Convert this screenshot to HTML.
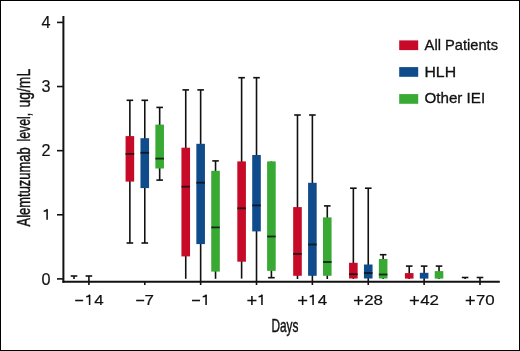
<!DOCTYPE html>
<html><head><meta charset="utf-8"><style>
html,body{margin:0;padding:0;background:#fff;overflow:hidden;width:520px;height:351px;}
svg{display:block;will-change:transform;}
.yt{font-family:"Liberation Sans",sans-serif;font-size:16.2px;fill:#111;stroke:#111;stroke-width:0.2px;}
.t{font-family:"Liberation Sans",sans-serif;font-size:15.4px;stroke:#111;stroke-width:0.2px;fill:#111;}
.l{font-family:"Liberation Sans",sans-serif;font-size:14.4px;fill:#111;stroke:#111;stroke-width:0.3px;}
.a{font-family:"Liberation Sans",sans-serif;font-size:18.8px;fill:#111;stroke:#111;stroke-width:0.45px;}
.y{font-family:"Liberation Sans",sans-serif;font-size:19.2px;fill:#111;stroke:#111;stroke-width:0.35px;}
</style></head><body>
<svg width="520" height="351" viewBox="0 0 520 351">
<rect x="0" y="0" width="520" height="351" fill="#fff"/>
<rect x="0.5" y="0.5" width="519" height="350" fill="none" stroke="#000" stroke-width="1"/>
<line x1="63.4" y1="16" x2="63.4" y2="282.8" stroke="#111" stroke-width="2"/>
<line x1="62.4" y1="281.8" x2="499.8" y2="281.8" stroke="#111" stroke-width="2"/>
<line x1="57" y1="278.90" x2="63" y2="278.90" stroke="#111" stroke-width="1.6"/>
<text transform="translate(50.5,284.70) scale(1.0,1)" text-anchor="end" class="yt">0</text>
<line x1="57" y1="214.78" x2="63" y2="214.78" stroke="#111" stroke-width="1.6"/>
<path d="M47.10 219.77999999999997 V209.48 M47.60 209.18 Q46.10 211.08 43.70 211.28" fill="none" stroke="#111" stroke-width="1.55"/>
<line x1="57" y1="150.66" x2="63" y2="150.66" stroke="#111" stroke-width="1.6"/>
<text transform="translate(50.5,156.46) scale(1.0,1)" text-anchor="end" class="yt">2</text>
<line x1="57" y1="86.54" x2="63" y2="86.54" stroke="#111" stroke-width="1.6"/>
<text transform="translate(50.5,92.34) scale(1.0,1)" text-anchor="end" class="yt">3</text>
<line x1="57" y1="22.42" x2="63" y2="22.42" stroke="#111" stroke-width="1.6"/>
<text transform="translate(50.5,28.22) scale(1.0,1)" text-anchor="end" class="yt">4</text>
<line x1="88.90" y1="281" x2="88.90" y2="285" stroke="#111" stroke-width="1.6"/>
<line x1="75.15" y1="300.5" x2="83.15" y2="300.5" stroke="#111" stroke-width="1.55"/>
<path d="M89.60 305.1 V295.00 M90.10 294.70 Q88.60 296.60 86.20 296.80" fill="none" stroke="#111" stroke-width="1.55"/>
<text transform="translate(98.90,305.20) scale(1.1,1)" text-anchor="middle" class="t">4</text>
<line x1="144.77" y1="281" x2="144.77" y2="285" stroke="#111" stroke-width="1.6"/>
<line x1="136.17" y1="300.5" x2="144.17" y2="300.5" stroke="#111" stroke-width="1.55"/>
<text transform="translate(149.17,305.20) scale(1.1,1)" text-anchor="middle" class="t">7</text>
<line x1="200.64" y1="281" x2="200.64" y2="285" stroke="#111" stroke-width="1.6"/>
<line x1="192.04" y1="300.5" x2="200.04" y2="300.5" stroke="#111" stroke-width="1.55"/>
<path d="M206.09 305.1 V295.00 M206.59 294.70 Q205.09 296.60 202.69 296.80" fill="none" stroke="#111" stroke-width="1.55"/>
<line x1="256.51" y1="281" x2="256.51" y2="285" stroke="#111" stroke-width="1.6"/>
<line x1="247.36" y1="300.5" x2="256.46" y2="300.5" stroke="#111" stroke-width="1.55"/>
<line x1="251.91" y1="295.95" x2="251.91" y2="305.05" stroke="#111" stroke-width="1.55"/>
<path d="M261.96 305.1 V295.00 M262.46 294.70 Q260.96 296.60 258.56 296.80" fill="none" stroke="#111" stroke-width="1.55"/>
<line x1="312.38" y1="281" x2="312.38" y2="285" stroke="#111" stroke-width="1.6"/>
<line x1="298.08" y1="300.5" x2="307.18" y2="300.5" stroke="#111" stroke-width="1.55"/>
<line x1="302.63" y1="295.95" x2="302.63" y2="305.05" stroke="#111" stroke-width="1.55"/>
<path d="M313.08 305.1 V295.00 M313.58 294.70 Q312.08 296.60 309.68 296.80" fill="none" stroke="#111" stroke-width="1.55"/>
<text transform="translate(322.38,305.20) scale(1.1,1)" text-anchor="middle" class="t">4</text>
<line x1="368.25" y1="281" x2="368.25" y2="285" stroke="#111" stroke-width="1.6"/>
<line x1="353.95" y1="300.5" x2="363.05" y2="300.5" stroke="#111" stroke-width="1.55"/>
<line x1="358.50" y1="295.95" x2="358.50" y2="305.05" stroke="#111" stroke-width="1.55"/>
<text transform="translate(369.05,305.20) scale(1.1,1)" text-anchor="middle" class="t">2</text>
<text transform="translate(378.25,305.20) scale(1.1,1)" text-anchor="middle" class="t">8</text>
<line x1="424.12" y1="281" x2="424.12" y2="285" stroke="#111" stroke-width="1.6"/>
<line x1="409.82" y1="300.5" x2="418.92" y2="300.5" stroke="#111" stroke-width="1.55"/>
<line x1="414.37" y1="295.95" x2="414.37" y2="305.05" stroke="#111" stroke-width="1.55"/>
<text transform="translate(424.92,305.20) scale(1.1,1)" text-anchor="middle" class="t">4</text>
<text transform="translate(434.12,305.20) scale(1.1,1)" text-anchor="middle" class="t">2</text>
<line x1="479.99" y1="281" x2="479.99" y2="285" stroke="#111" stroke-width="1.6"/>
<line x1="465.69" y1="300.5" x2="474.79" y2="300.5" stroke="#111" stroke-width="1.55"/>
<line x1="470.24" y1="295.95" x2="470.24" y2="305.05" stroke="#111" stroke-width="1.55"/>
<text transform="translate(480.79,305.20) scale(1.1,1)" text-anchor="middle" class="t">7</text>
<text transform="translate(489.99,305.20) scale(1.1,1)" text-anchor="middle" class="t">0</text>
<line x1="74.00" y1="276" x2="74.00" y2="279" stroke="#111" stroke-width="1.6"/>
<line x1="70.70" y1="276" x2="77.30" y2="276" stroke="#111" stroke-width="1.6"/>
<line x1="88.90" y1="276" x2="88.90" y2="282" stroke="#111" stroke-width="1.6"/>
<line x1="85.60" y1="276" x2="92.20" y2="276" stroke="#111" stroke-width="1.6"/>
<line x1="129.87" y1="100.3" x2="129.87" y2="243" stroke="#111" stroke-width="1.6"/>
<line x1="126.57" y1="100.3" x2="133.17" y2="100.3" stroke="#111" stroke-width="1.6"/>
<line x1="126.57" y1="243" x2="133.17" y2="243" stroke="#111" stroke-width="1.6"/>
<rect x="125.57" y="136.1" width="8.6" height="45.50" fill="#C60A28"/>
<line x1="125.57" y1="153.9" x2="134.17" y2="153.9" stroke="#111" stroke-opacity="0.85" stroke-width="1.8"/>
<line x1="144.77" y1="100.3" x2="144.77" y2="243" stroke="#111" stroke-width="1.6"/>
<line x1="141.47" y1="100.3" x2="148.07" y2="100.3" stroke="#111" stroke-width="1.6"/>
<line x1="141.47" y1="243" x2="148.07" y2="243" stroke="#111" stroke-width="1.6"/>
<rect x="140.47" y="138.2" width="8.6" height="49.90" fill="#104C8C"/>
<line x1="140.47" y1="152.8" x2="149.07" y2="152.8" stroke="#111" stroke-opacity="0.85" stroke-width="1.8"/>
<line x1="159.67" y1="107.4" x2="159.67" y2="180.1" stroke="#111" stroke-width="1.6"/>
<line x1="156.37" y1="107.4" x2="162.97" y2="107.4" stroke="#111" stroke-width="1.6"/>
<line x1="156.37" y1="180.1" x2="162.97" y2="180.1" stroke="#111" stroke-width="1.6"/>
<rect x="155.37" y="124.6" width="8.6" height="43.90" fill="#38AA34"/>
<line x1="155.37" y1="158.6" x2="163.97" y2="158.6" stroke="#111" stroke-opacity="0.85" stroke-width="1.8"/>
<line x1="185.74" y1="89.9" x2="185.74" y2="278.8" stroke="#111" stroke-width="1.6"/>
<line x1="182.44" y1="89.9" x2="189.04" y2="89.9" stroke="#111" stroke-width="1.6"/>
<rect x="181.44" y="147.7" width="8.6" height="108.70" fill="#C60A28"/>
<line x1="181.44" y1="186.7" x2="190.04" y2="186.7" stroke="#111" stroke-opacity="0.85" stroke-width="1.8"/>
<line x1="200.64" y1="89.9" x2="200.64" y2="282" stroke="#111" stroke-width="1.6"/>
<line x1="197.34" y1="89.9" x2="203.94" y2="89.9" stroke="#111" stroke-width="1.6"/>
<rect x="196.34" y="143.8" width="8.6" height="100.30" fill="#104C8C"/>
<line x1="196.34" y1="182.7" x2="204.94" y2="182.7" stroke="#111" stroke-opacity="0.85" stroke-width="1.8"/>
<line x1="215.54" y1="160.9" x2="215.54" y2="278.8" stroke="#111" stroke-width="1.6"/>
<line x1="212.24" y1="160.9" x2="218.84" y2="160.9" stroke="#111" stroke-width="1.6"/>
<rect x="211.24" y="170.8" width="8.6" height="100.80" fill="#38AA34"/>
<line x1="211.24" y1="227.4" x2="219.84" y2="227.4" stroke="#111" stroke-opacity="0.85" stroke-width="1.8"/>
<line x1="241.61" y1="77.7" x2="241.61" y2="278.6" stroke="#111" stroke-width="1.6"/>
<line x1="238.31" y1="77.7" x2="244.91" y2="77.7" stroke="#111" stroke-width="1.6"/>
<rect x="237.31" y="161.4" width="8.6" height="100.30" fill="#C60A28"/>
<line x1="237.31" y1="208.3" x2="245.91" y2="208.3" stroke="#111" stroke-opacity="0.85" stroke-width="1.8"/>
<line x1="256.51" y1="77.7" x2="256.51" y2="282" stroke="#111" stroke-width="1.6"/>
<line x1="253.21" y1="77.7" x2="259.81" y2="77.7" stroke="#111" stroke-width="1.6"/>
<rect x="252.21" y="155" width="8.6" height="76.40" fill="#104C8C"/>
<line x1="252.21" y1="205.4" x2="260.81" y2="205.4" stroke="#111" stroke-opacity="0.85" stroke-width="1.8"/>
<line x1="271.41" y1="161.4" x2="271.41" y2="277.7" stroke="#111" stroke-width="1.6"/>
<line x1="268.11" y1="277.7" x2="274.71" y2="277.7" stroke="#111" stroke-width="1.6"/>
<rect x="267.11" y="161.4" width="8.6" height="109.50" fill="#38AA34"/>
<line x1="267.11" y1="236.5" x2="275.71" y2="236.5" stroke="#111" stroke-opacity="0.85" stroke-width="1.8"/>
<line x1="297.48" y1="115" x2="297.48" y2="279" stroke="#111" stroke-width="1.6"/>
<line x1="294.18" y1="115" x2="300.78" y2="115" stroke="#111" stroke-width="1.6"/>
<rect x="293.18" y="207.1" width="8.6" height="68.70" fill="#C60A28"/>
<line x1="293.18" y1="253.9" x2="301.78" y2="253.9" stroke="#111" stroke-opacity="0.85" stroke-width="1.8"/>
<line x1="312.38" y1="115" x2="312.38" y2="282" stroke="#111" stroke-width="1.6"/>
<line x1="309.08" y1="115" x2="315.68" y2="115" stroke="#111" stroke-width="1.6"/>
<rect x="308.08" y="182.8" width="8.6" height="93.00" fill="#104C8C"/>
<line x1="308.08" y1="244.5" x2="316.68" y2="244.5" stroke="#111" stroke-opacity="0.85" stroke-width="1.8"/>
<line x1="327.28" y1="205.9" x2="327.28" y2="279" stroke="#111" stroke-width="1.6"/>
<line x1="323.98" y1="205.9" x2="330.58" y2="205.9" stroke="#111" stroke-width="1.6"/>
<rect x="322.98" y="217.4" width="8.6" height="58.40" fill="#38AA34"/>
<line x1="322.98" y1="262" x2="331.58" y2="262" stroke="#111" stroke-opacity="0.85" stroke-width="1.8"/>
<line x1="353.35" y1="188.2" x2="353.35" y2="279" stroke="#111" stroke-width="1.6"/>
<line x1="350.05" y1="188.2" x2="356.65" y2="188.2" stroke="#111" stroke-width="1.6"/>
<rect x="349.05" y="262.8" width="8.6" height="15.70" fill="#C60A28"/>
<line x1="349.05" y1="274.2" x2="357.65" y2="274.2" stroke="#111" stroke-opacity="0.85" stroke-width="1.8"/>
<line x1="368.25" y1="188.2" x2="368.25" y2="282" stroke="#111" stroke-width="1.6"/>
<line x1="364.95" y1="188.2" x2="371.55" y2="188.2" stroke="#111" stroke-width="1.6"/>
<rect x="363.95" y="264.5" width="8.6" height="14.00" fill="#104C8C"/>
<line x1="363.95" y1="273" x2="372.55" y2="273" stroke="#111" stroke-opacity="0.85" stroke-width="1.8"/>
<line x1="383.15" y1="254.7" x2="383.15" y2="279" stroke="#111" stroke-width="1.6"/>
<line x1="379.85" y1="254.7" x2="386.45" y2="254.7" stroke="#111" stroke-width="1.6"/>
<rect x="378.85" y="259" width="8.6" height="19.50" fill="#38AA34"/>
<line x1="378.85" y1="274.5" x2="387.45" y2="274.5" stroke="#111" stroke-opacity="0.85" stroke-width="1.8"/>
<line x1="409.22" y1="266.1" x2="409.22" y2="279" stroke="#111" stroke-width="1.6"/>
<line x1="405.92" y1="266.1" x2="412.52" y2="266.1" stroke="#111" stroke-width="1.6"/>
<rect x="404.92" y="273.1" width="8.6" height="5.50" fill="#C60A28"/>
<line x1="424.12" y1="266.1" x2="424.12" y2="282" stroke="#111" stroke-width="1.6"/>
<line x1="420.82" y1="266.1" x2="427.42" y2="266.1" stroke="#111" stroke-width="1.6"/>
<rect x="419.82" y="272.8" width="8.6" height="5.80" fill="#104C8C"/>
<line x1="439.02" y1="266.1" x2="439.02" y2="279" stroke="#111" stroke-width="1.6"/>
<line x1="435.72" y1="266.1" x2="442.32" y2="266.1" stroke="#111" stroke-width="1.6"/>
<rect x="434.72" y="271.1" width="8.6" height="7.50" fill="#38AA34"/>
<line x1="465.09" y1="277.5" x2="465.09" y2="279" stroke="#111" stroke-width="1.6"/>
<line x1="461.79" y1="277.5" x2="468.39" y2="277.5" stroke="#111" stroke-width="1.6"/>
<line x1="479.99" y1="277.5" x2="479.99" y2="282" stroke="#111" stroke-width="1.6"/>
<line x1="476.69" y1="277.5" x2="483.29" y2="277.5" stroke="#111" stroke-width="1.6"/>
<rect x="399.2" y="40.4" width="19" height="9.7" fill="#C60A28"/>
<rect x="399.2" y="67.1" width="19" height="9.7" fill="#104C8C"/>
<rect x="399.2" y="94.1" width="19" height="9.7" fill="#38AA34"/>
<text transform="translate(424.6,49.6) scale(1.02,1)" class="l">All Patients</text>
<text transform="translate(424.4,76.5) scale(1.10,1)" class="l">HLH</text>
<text transform="translate(424.4,103.2) scale(1.055,1)" class="l">Other IEI</text>
<text transform="translate(271.4,331.9) scale(0.629,1)" class="a">Days</text>
<text transform="translate(30.3,226.5) rotate(-90) scale(0.690,1)" class="a">Alemtuzumab</text>
<text transform="translate(30.3,141.5) rotate(-90) scale(0.655,1)" class="a">level,</text>
<text transform="translate(30.3,107.4) rotate(-90) scale(0.737,1)" class="a">ug/mL</text>
</svg>
</body></html>
